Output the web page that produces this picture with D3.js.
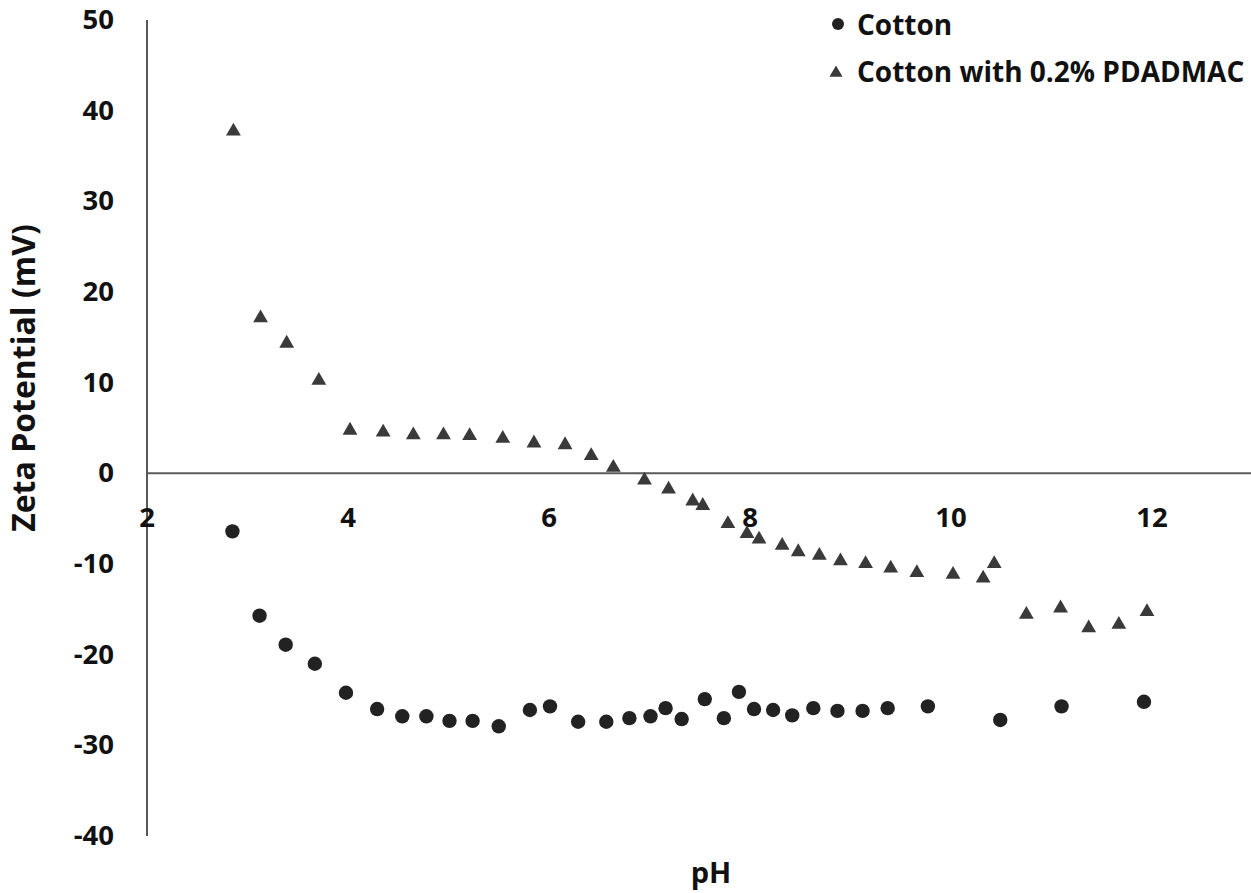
<!DOCTYPE html>
<html>
<head>
<meta charset="utf-8">
<script src="https://cdn.jsdelivr.net/npm/d3@7"></script>
<style>
  html, body { margin: 0; padding: 0; background: #fff; }
  svg { display: block; }
  text { font-family: "Open Sans", "Liberation Sans", sans-serif; font-weight: 700; fill: #111; }
</style>
</head>
<body>
<svg id="chart" width="1251" height="893"></svg>
<script>
// ---- data ----
const cottonPH   = [2.85,3.12,3.38,3.67,3.98,4.29,4.54,4.78,5.01,5.24,5.50,5.81,6.01,6.29,6.57,6.80,7.01,7.16,7.32,7.55,7.74,7.89,8.04,8.23,8.42,8.63,8.87,9.12,9.37,9.77,10.49,11.10,11.92];
const cottonZeta = [-6.4,-15.7,-18.9,-21.0,-24.2,-26.0,-26.8,-26.8,-27.3,-27.3,-27.9,-26.1,-25.7,-27.4,-27.4,-27.0,-26.8,-25.9,-27.1,-24.9,-27.0,-24.1,-26.0,-26.1,-26.7,-25.9,-26.2,-26.2,-25.9,-25.7,-27.2,-25.7,-25.2];

const pdadmacPH   = [2.86,3.13,3.39,3.71,4.02,4.35,4.65,4.95,5.21,5.54,5.85,6.16,6.42,6.64,6.95,7.19,7.43,7.53,7.78,7.97,8.09,8.32,8.48,8.69,8.90,9.15,9.40,9.66,10.02,10.32,10.43,10.75,11.09,11.37,11.67,11.95];
const pdadmacZeta = [37.9,17.3,14.5,10.4,4.9,4.7,4.4,4.4,4.3,4.0,3.5,3.3,2.1,0.8,-0.6,-1.6,-2.9,-3.4,-5.4,-6.5,-7.1,-7.8,-8.5,-8.9,-9.5,-9.8,-10.3,-10.8,-11.0,-11.4,-9.8,-15.4,-14.7,-16.9,-16.5,-15.1];

const xTicks = [2,4,6,8,10,12];
const yTicks = [50,40,30,20,10,0,-10,-20,-30,-40];
const seriesNames = ["Cotton", "Cotton with 0.2% PDADMAC"];
const xTitle = "pH";
const yTitle = "Zeta Potential (mV)";

// ---- layout ----
const svg = d3.select("#chart");
const x = d3.scaleLinear().domain([2, 13]).range([147, 1252.5]);
const y = d3.scaleLinear().domain([-40, 50]).range([836, 20]);

// y axis line (left)
svg.append("line")
  .attr("x1", x(2)).attr("x2", x(2))
  .attr("y1", y(50)).attr("y2", y(-40))
  .attr("stroke", "#595959").attr("stroke-width", 2);

// x axis line at y = 0
svg.append("line")
  .attr("x1", x(2)).attr("x2", x(13))
  .attr("y1", y(0)).attr("y2", y(0))
  .attr("stroke", "#595959").attr("stroke-width", 2);

// y tick labels
svg.append("g").selectAll("text").data(yTicks).join("text")
  .attr("x", 114).attr("y", d => y(d) - 1)
  .attr("dy", "0.36em")
  .attr("text-anchor", "end")
  .attr("font-size", 27.5)
  .text(d => d);

// x tick labels
svg.append("g").selectAll("text").data(xTicks).join("text")
  .attr("x", d => x(d)).attr("y", y(0) + 44)
  .attr("dy", "0.36em")
  .attr("text-anchor", "middle")
  .attr("font-size", 27.5)
  .text(d => d);

// axis titles
svg.append("text")
  .attr("x", 711).attr("y", 883)
  .attr("text-anchor", "middle")
  .attr("font-size", 29)
  .text(xTitle);

svg.append("text")
  .attr("transform", `translate(35, 378) rotate(-90)`)
  .attr("text-anchor", "middle")
  .attr("font-size", 32)
  .text(yTitle);

// series
const tri = d3.symbol().type(d3.symbolTriangle).size(95);

svg.append("g").selectAll("circle").data(cottonPH).join("circle")
  .attr("cx", d => x(d))
  .attr("cy", (d, i) => y(cottonZeta[i]))
  .attr("r", 7.2)
  .attr("fill", "#222");

svg.append("g").selectAll("path").data(pdadmacPH).join("path")
  .attr("d", tri)
  .attr("transform", (d, i) => `translate(${x(d)},${y(pdadmacZeta[i]) + 1.5})`)
  .attr("fill", "#3a3a3a");

// legend
const legend = svg.append("g");
legend.append("circle").attr("cx", 838).attr("cy", 24).attr("r", 6).attr("fill", "#222");
legend.append("text").attr("x", 857).attr("y", 35).attr("font-size", 28).text(seriesNames[0]);
legend.append("path").attr("d", d3.symbol().type(d3.symbolTriangle).size(75))
  .attr("transform", "translate(836,73)").attr("fill", "#3a3a3a");
legend.append("text").attr("x", 857).attr("y", 82).attr("font-size", 28).text(seriesNames[1]);
</script>
</body>
</html>
